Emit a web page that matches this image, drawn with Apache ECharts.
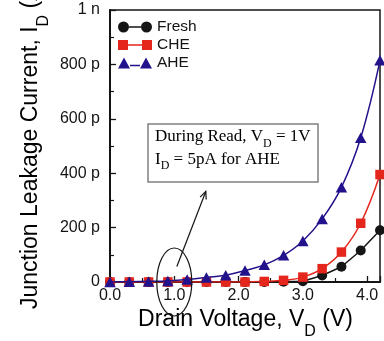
<!DOCTYPE html>
<html>
<head>
<meta charset="utf-8">
<script src="https://cdn.jsdelivr.net/npm/echarts@6/dist/echarts.min.js"></script>
<style>
  html, body { margin: 0; padding: 0; background: #fff; }
  #chart { width: 384px; height: 341px; }
</style>
</head>
<body>
<div id="chart"></div>
<script>
// Drain voltage sweep (V)
const drainVoltage = [0, 0.3, 0.6, 0.9, 1.2, 1.5, 1.8, 2.1, 2.4, 2.7, 3.0, 3.3, 3.6, 3.9, 4.2];
// Junction leakage current (pA)
const freshCurrent = [0, 0, 0, 0, 0, 0, 0, 0, 0, 1, 3, 24, 56, 116, 190];
const cheCurrent   = [0, 0, 0, 0, 0, 0, 0, 0, 2, 6, 18, 49, 110, 216, 395];
const aheCurrent   = [0, 1, 2, 4, 9, 17, 25, 42, 63, 98, 151, 232, 348, 530, 815];
const seriesNames  = ['Fresh', 'CHE', 'AHE'];
const xTicks = [0, 1, 2, 3, 4];
const yTickLabels = { 0: '0', 200: '200 p', 400: '400 p', 600: '600 p', 800: '800 p', 1000: '1 n' };

const SANS = '"Liberation Sans", Arial, Helvetica, sans-serif';
const SERIF = '"Liberation Serif", "Times New Roman", serif';
const INK = '#141414';
const colors = { Fresh: '#151515', CHE: '#e4261c', AHE: '#22128c' };

const pairs = (ys) => drainVoltage.map((v, i) => [v, ys[i]]);

// legend glyphs: marker - line - marker
const icons = {
  Fresh: 'path://M0,5.5A5.5,5.5,0,1,1,11,5.5A5.5,5.5,0,1,1,0,5.5ZM23,5.5A5.5,5.5,0,1,1,34,5.5A5.5,5.5,0,1,1,23,5.5ZM11,4.7L23,4.7L23,6.3L11,6.3Z',
  CHE: 'path://M0,0.5L10,0.5L10,10.5L0,10.5ZM24,0.5L34,0.5L34,10.5L24,10.5ZM10,4.7L24,4.7L24,6.3L10,6.3Z',
  AHE: 'path://M0,11L6,0L12,11ZM22,11L28,0L34,11ZM12,7.2L22,7.2L22,8.8L12,8.8Z'
};

const chart = echarts.init(document.getElementById('chart'), null, { renderer: 'canvas' });

const axisCommon = {
  axisLine: { show: true, onZero: false, lineStyle: { color: INK, width: 2 } },
  axisTick: { show: true, inside: true, length: 6, lineStyle: { color: INK, width: 1.3 } },
  minorTick: { show: true, splitNumber: 2, length: 4, lineStyle: { color: INK, width: 1.2 } },
  splitLine: { show: false },
  minorSplitLine: { show: false }
};

chart.setOption({
  animation: false,
  backgroundColor: '#fff',
  grid: {
    left: 110, right: 4, top: 10, bottom: 59,
    show: true, borderColor: INK, borderWidth: 1.5, containLabel: false
  },
  legend: {
    orient: 'vertical',
    left: 118, top: 19,
    padding: 0,
    itemGap: 2,
    itemWidth: 34, itemHeight: 11,
    textStyle: { fontFamily: SANS, fontSize: 15.5, color: INK },
    data: seriesNames.map(n => ({ name: n, icon: icons[n] }))
  },
  xAxis: Object.assign({
    type: 'value',
    min: 0, max: 4.2, interval: 1,
    axisLabel: {
      margin: 6, fontFamily: SANS, fontSize: 16, color: INK,
      formatter: (v) => xTicks.includes(Math.round(v * 1000) / 1000) ? v.toFixed(1) : ''
    }
  }, axisCommon),
  yAxis: Object.assign({
    type: 'value',
    min: 0, max: 1000, interval: 200,
    axisLabel: {
      margin: 10, fontFamily: SANS, fontSize: 16, color: INK,
      formatter: (v) => yTickLabels[v] !== undefined ? yTickLabels[v] : ''
    }
  }, axisCommon),
  series: [
    {
      name: 'Fresh', type: 'line', data: pairs(freshCurrent),
      symbol: 'circle', symbolSize: 10,
      itemStyle: { color: colors.Fresh },
      lineStyle: { color: colors.Fresh, width: 1.5 },
      z: 2
    },
    {
      name: 'CHE', type: 'line', data: pairs(cheCurrent),
      symbol: 'rect', symbolSize: 9.5,
      smooth: 0.4,
      itemStyle: { color: colors.CHE },
      lineStyle: { color: colors.CHE, width: 1.5 },
      z: 3
    },
    {
      name: 'AHE', type: 'line', data: pairs(aheCurrent),
      symbol: 'triangle', symbolSize: [11.5, 10.5],
      smooth: 0.4,
      itemStyle: { color: colors.AHE },
      lineStyle: { color: colors.AHE, width: 1.5 },
      z: 4
    }
  ]
});

// axis titles with subscripts, and the read-condition callout
const px = (x, y) => chart.convertToPixel({ gridIndex: 0 }, [x, y]);
const nameRich = {
  m: { fontFamily: SANS, fontSize: 23, lineHeight: 23, verticalAlign: 'top', color: INK },
  s: { fontFamily: SANS, fontSize: 16, lineHeight: 16, padding: [16, 0, 0, 0], verticalAlign: 'top', color: INK }
};
const noteRich = {
  m: { fontFamily: SERIF, fontSize: 17, lineHeight: 17, verticalAlign: 'top', color: INK },
  s: { fontFamily: SERIF, fontSize: 12, lineHeight: 12, padding: [9, 0, 0, 0], verticalAlign: 'top', color: INK }
};

const ellC = px(1.0, 0);
const tail = px(1.04, 57);
const head = px(1.49, 333);
const ang = Math.atan2(head[1] - tail[1], head[0] - tail[0]);
const headLen = 8, spread = 0.42;
const wingA = [head[0] - headLen * Math.cos(ang - spread), head[1] - headLen * Math.sin(ang - spread)];
const wingB = [head[0] - headLen * Math.cos(ang + spread), head[1] - headLen * Math.sin(ang + spread)];

chart.setOption({
  graphic: [
    {
      type: 'text', x: 245.5, y: 308,
      style: { text: '{m|Drain Voltage, V}{s|D}{m| (V)}', rich: nameRich, align: 'center', verticalAlign: 'top' }
    },
    {
      type: 'text', x: 19.5, y: 309, rotation: Math.PI / 2,
      style: { text: '{m|Junction Leakage Current, I}{s|D}{m| (A)}', rich: nameRich, align: 'left', verticalAlign: 'top' }
    },
    {
      type: 'rect', shape: { x: 148, y: 124, width: 170, height: 58 },
      style: { fill: '#fff', stroke: '#808080', lineWidth: 1.5 }, z: 10
    },
    {
      type: 'text', x: 155, y: 128.5, z: 11,
      style: { text: '{m|During Read, V}{s|D}{m| = 1V}', rich: noteRich, align: 'left', verticalAlign: 'top' }
    },
    {
      type: 'text', x: 155, y: 150.8, z: 11,
      style: { text: '{m|I}{s|D}{m| = 5pA for AHE}', rich: noteRich, align: 'left', verticalAlign: 'top' }
    },
    {
      type: 'ellipse', shape: { cx: ellC[0], cy: ellC[1], rx: 17.5, ry: 34 },
      style: { fill: 'none', stroke: INK, lineWidth: 1.2 }, z: 10
    },
    {
      type: 'line', shape: { x1: tail[0], y1: tail[1], x2: head[0], y2: head[1] },
      style: { stroke: INK, lineWidth: 1.2 }, z: 10
    },
    {
      type: 'polyline', shape: { points: [wingA, head, wingB] },
      style: { stroke: INK, lineWidth: 1.2, fill: 'none' }, z: 10
    }
  ]
});
</script>
</body>
</html>
